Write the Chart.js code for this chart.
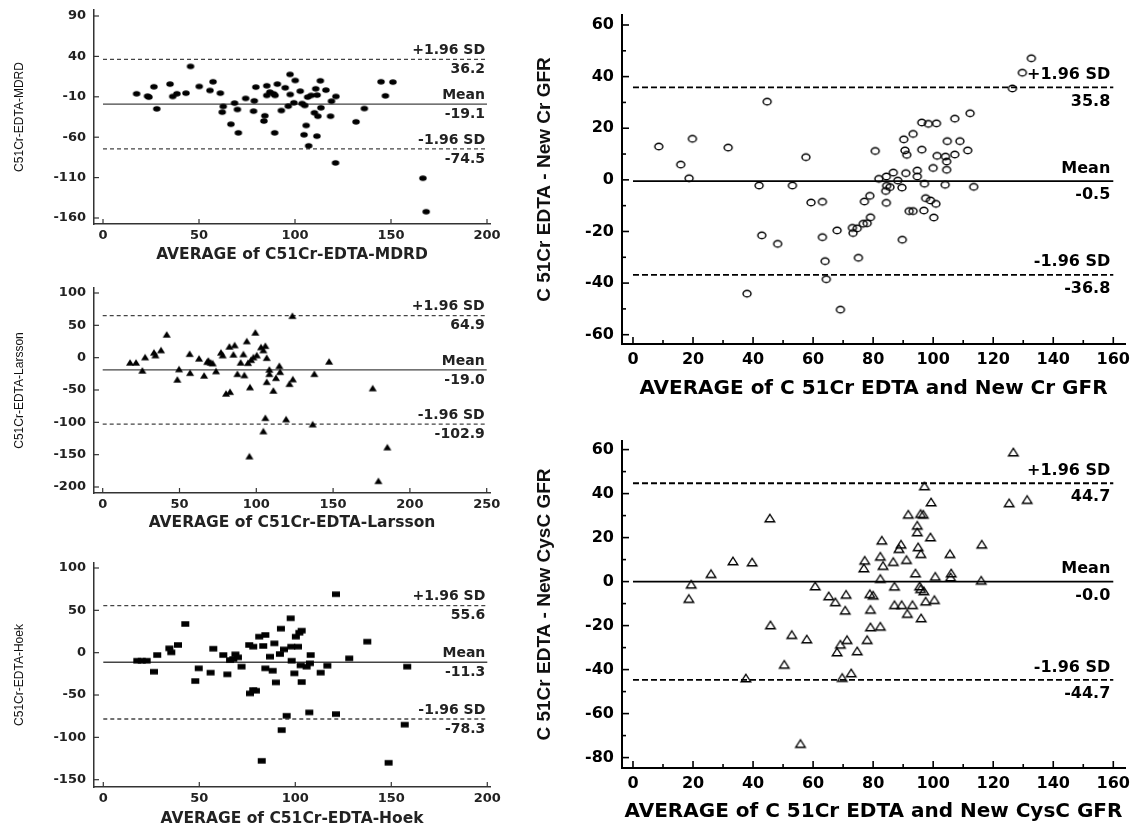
<!DOCTYPE html>
<html>
<head>
<meta charset="utf-8">
<title>Bland-Altman plots</title>
<script src="https://cdn.jsdelivr.net/npm/chart.js@4.4.1/dist/chart.umd.min.js"></script>
<style>
  html, body { margin: 0; padding: 0; background: #fff; }
  #page { position: relative; width: 1146px; height: 827px; overflow: hidden; background: #fff; }
  canvas { position: absolute; }
</style>
</head>
<body>
<div id="page">
  <canvas id="mdrd"></canvas>
  <canvas id="larsson"></canvas>
  <canvas id="hoek"></canvas>
  <canvas id="newcr"></canvas>
  <canvas id="cysc"></canvas>
</div>
<script>
// [average, difference]
const mdrdPoints = [[17.5,-6.3],[23.2,-9.2],[23.9,-10.4],[26.5,2.4],[28.0,-24.9],[34.9,5.7],[36.3,-9.6],[38.5,-6.3],[43.2,-5.5],[45.6,27.6],[50.1,2.8],[55.7,-2.2],[57.3,8.6],[61.1,-5.5],[62.6,-22],[62.1,-29],[66.6,-43.9],[68.5,-17.8],[70.0,-25.7],[70.5,-54.6],[74.3,-12],[78.8,-15],[78.4,-27.8],[79.6,2],[84.3,-33.5],[83.8,-40],[85.3,3.6],[85.3,-8.3],[86.9,-4.2],[88.8,-6.3],[89.6,-8.3],[89.4,-54.6],[90.8,5.7],[92.9,-27],[94.9,1.2],[97.4,17.7],[97.5,-7.1],[96.5,-21.6],[100.1,10.2],[99.4,-17.4],[102.7,-3],[103.7,-18.3],[105.1,-20.7],[105.8,-45.5],[104.7,-57],[107.1,-70.7],[106.6,-10.4],[108.4,-8.3],[110.8,-0.1],[111.5,-7.9],[110.1,-29.8],[111.9,-34],[111.4,-58.7],[113.2,9.8],[113.5,-23.6],[116.1,-1.7],[118.5,-34],[119.0,-15.4],[121.3,-9.6],[121.1,-91.8],[131.8,-41],[136.1,-24.5],[144.8,8.6],[147.1,-8.8],[151.0,8.2],[166.6,-110.8],[168.3,-152.2]];
const larssonPoints = [[17.8,-7.2],[21.7,-7.2],[27.6,1],[25.8,-19.6],[33.4,8.3],[34.3,4.1],[38,11.9],[41.7,36.1],[49.7,-17.5],[48.6,-33.5],[56.6,6.2],[56.9,-23.2],[62.7,-1],[66,-27.3],[68.8,-4.1],[70.3,-7.2],[68.1,-6.2],[71.6,-8.3],[73.8,-20.6],[77,8.3],[78.1,4.1],[80.3,-55.2],[82.9,-52.6],[82.5,17.5],[85.9,19.6],[85.1,5.2],[87.7,-24.8],[89.8,-7.2],[91.6,5.7],[92.2,-26.8],[93.8,25.8],[94.6,-7.7],[95.9,-45.4],[96.6,-3.1],[98.1,1],[99.4,39.2],[100.3,4.1],[103.1,16.5],[104.6,11.9],[105.9,18.6],[106.8,0],[108.5,-18.1],[106.8,-37.2],[108.5,-24.8],[111.1,-50.6],[112.8,-31],[115,-12.4],[115.5,-21.7],[121.6,-40.2],[123.8,-33],[123.5,65],[105.9,-92.9],[104.6,-113.5],[119.4,-94.9],[136.7,-102.7],[137.8,-24.8],[147.4,-5.7],[95.5,-152.2],[175.8,-47],[185.3,-138.3],[179.5,-190.4]];
const hoekPoints = [[17.7,-9.5],[20,-9.5],[22.6,-9.5],[26.4,-22.5],[28.1,-2.8],[34.4,5.1],[35.4,0.4],[38.9,9.1],[42.7,33.9],[47.9,-33.5],[49.7,-18.5],[55.9,-23.6],[57.3,4.7],[62.5,-2.8],[64.6,-25.6],[66,-8.7],[68.8,-2],[70.1,-5.5],[72,-16.5],[67.7,-7.5],[76,9.1],[78.1,7.1],[76.4,-48.1],[78.1,-44.1],[79.5,-44.9],[81.2,18.9],[84.4,20.9],[83.3,7.9],[84.4,-18.5],[82.5,-127.7],[86.8,-4.7],[88.2,-21.3],[89.1,11],[89.9,-35.1],[92,-1.6],[92.5,28.4],[94.1,3.9],[95.5,-74.5],[92.9,-91.4],[97.6,40.6],[97.9,7.1],[98.1,-9.5],[99.5,-24.4],[100.3,18.9],[101.4,7.1],[102.1,23.6],[103.3,26],[102.8,-15],[103.3,-34.7],[105.9,-16.5],[108,-2.8],[107.6,-12.6],[107.3,-70.5],[113.2,-23.6],[116.7,-15.4],[121.2,69],[121.2,-72.5],[128.1,-6.7],[137.5,13],[148.6,-130],[158.3,-16.5],[157,-85]];
const newCrPoints = [[8.6,12.9],[15.9,5.9],[19.8,15.9],[18.7,0.6],[31.7,12.5],[44.7,30.3],[42,-2.2],[42.9,-21.5],[38,-44.1],[48.2,-24.8],[53.1,-2.2],[57.6,8.8],[59.3,-8.8],[63.1,-8.5],[63.1,-22.2],[64,-31.5],[64.4,-38.5],[68,-19.6],[69.1,-50.3],[73.1,-18.6],[73.3,-20.6],[74.7,-18.8],[75.1,-30.2],[76.7,-17],[78,-16.8],[77.1,-8.4],[78.9,-6.2],[79.1,-14.5],[80.7,11.2],[81.9,0.4],[84.4,1.3],[86.7,2.8],[84.5,-2.3],[84.2,-4.3],[85.6,-2.8],[88.2,-0.3],[89.6,-3],[84.4,-8.9],[90.9,2.6],[89.7,-23.2],[90.2,15.7],[93.3,17.8],[90.6,11.4],[91.2,9.7],[96.2,11.7],[96.2,22.2],[98.4,21.7],[101.1,21.9],[94.7,3.6],[94.7,1.3],[97.1,-1.5],[100,4.6],[101.3,9.3],[104.1,9],[104.5,7.1],[104.5,3.9],[104,-1.9],[104.7,15],[107.2,23.7],[107.2,9.8],[108.9,15],[111.5,11.4],[112.3,25.8],[113.5,-2.7],[92,-12.1],[93.3,-12.1],[96.9,-11.9],[97.5,-7.1],[99.1,-8],[100.9,-9.3],[100.2,-14.6],[126.4,35.4],[129.7,41.5],[132.7,47.1]];
const cysCPoints = [[18.6,-7.7],[19.4,-1.2],[26,3.6],[33.3,9.4],[39.7,8.9],[37.6,-43.8],[45.6,28.9],[45.8,-19.7],[50.4,-37.6],[52.9,-24.1],[55.8,-73.6],[57.9,-26.1],[60.7,-2],[65.2,-6.5],[67.4,-9.2],[68,-32],[69.1,-28.5],[70.7,-13],[71,-5.8],[71.3,-26.4],[69.7,-43.6],[72.7,-41.5],[74.7,-31.5],[76.9,6.2],[77.2,9.7],[78,-26.4],[78.9,-5.5],[79.1,-12.6],[79.1,-20.6],[80,-6.2],[82.4,-20.3],[82.9,18.8],[82.4,11.5],[83.3,7.3],[82.4,1.4],[86.7,9.1],[87.1,-2.1],[87.1,-10.5],[88.6,15],[89.3,17],[91.1,10],[89.5,-10.5],[91.4,-14.5],[93.1,-10.5],[91.7,30.6],[95.8,30.9],[96.7,30.6],[94.7,25.6],[94.7,22.6],[95,15.8],[95.9,12.7],[94.1,3.9],[95.5,-2],[95.8,-3.2],[96.9,-4.2],[96,-16.5],[97.5,-8.9],[97.1,43.5],[99.3,36.2],[99.1,20.3],[100.4,-8.2],[100.7,2.4],[105.6,12.7],[106,3.9],[105.8,2.1],[116.2,17],[116,0.6],[125.3,35.8],[131.3,37.3],[126.7,58.9]];

// +1.96 SD, mean, -1.96 SD
const limitNames = ['+1.96 SD', 'Mean', '-1.96 SD'];
const mdrdLimits = [36.2, -19.1, -74.5];
const mdrdLimitText = ['36.2', '-19.1', '-74.5'];
const larssonLimits = [64.9, -19.0, -102.9];
const larssonLimitText = ['64.9', '-19.0', '-102.9'];
const hoekLimits = [55.6, -11.3, -78.3];
const hoekLimitText = ['55.6', '-11.3', '-78.3'];
const newCrLimits = [35.8, -0.5, -36.8];
const newCrLimitText = ['35.8', '-0.5', '-36.8'];
const cysCLimits = [44.7, -0.0, -44.7];
const cysCLimitText = ['44.7', '-0.0', '-44.7'];

// tick labels
const mdrdXTicks = [0, 50, 100, 150, 200];
const mdrdYTicks = [90, 40, -10, -60, -110, -160];
const larssonXTicks = [0, 50, 100, 150, 200, 250];
const larssonYTicks = [100, 50, 0, -50, -100, -150, -200];
const hoekXTicks = [0, 50, 100, 150, 200];
const hoekYTicks = [100, 50, 0, -50, -100, -150];
const gfrXTicks = [0, 20, 40, 60, 80, 100, 120, 140, 160];
const gfrXMinor = [10, 30, 50, 70, 90, 110, 130, 150];
const newCrYTicks = [60, 40, 20, 0, -20, -40, -60];
const newCrYMinor = [50, 30, 10, -10, -30, -50];
const cysCYTicks = [60, 40, 20, 0, -20, -40, -60, -80];
const cysCYMinor = [50, 30, 10, -10, -30, -50, -70];

function marker(shape, w, h, filled, lw) {
    const c = document.createElement('canvas');
    const pad = 2;
    c.width = Math.ceil(w + pad * 2);
    c.height = Math.ceil(h + pad * 2);
    const g = c.getContext('2d');
    const cx = c.width / 2, cy = c.height / 2;
    g.beginPath();
    if (shape === 'circle') {
        g.ellipse(cx, cy, w / 2, h / 2, 0, 0, Math.PI * 2);
    } else if (shape === 'triangle') {
        g.moveTo(cx, cy - h / 2);
        g.lineTo(cx + w / 2, cy + h / 2);
        g.lineTo(cx - w / 2, cy + h / 2);
        g.closePath();
    } else {
        g.rect(cx - w / 2, cy - h / 2, w, h);
    }
    if (filled) {
        g.fillStyle = '#000';
        g.fill();
    } else {
        g.lineWidth = lw;
        g.strokeStyle = '#000';
        g.stroke();
    }
    return c;
}

const smallStyle = {
    tickFont: { family: '"DejaVu Sans", sans-serif', size: 13, weight: 'bold' },
    tickColor: '#222', axisColor: '#333', axisWidth: 1.5,
    lineColor: '#444', lineWidth: 1.3, dash: [4, 3],
    labelFont: 'bold 14px "DejaVu Sans", sans-serif', labelColor: '#222',
    labelAbove: 9, labelBelow: 10, labelInset: 2,
    major: 5, minor: 3,
    xTitleFont: { family: '"DejaVu Sans", sans-serif', size: 15.5, weight: 'bold' },
    yTitleFont: { family: '"Liberation Sans", Arial, sans-serif', size: 12, weight: 'normal' },
    xTickPad: 4, yTickPad: 8, yTitlePad: 12.8
};
const bigStyle = {
    tickFont: { family: '"DejaVu Sans", sans-serif', size: 16, weight: 'bold' },
    tickColor: '#000', axisColor: '#000', axisWidth: 2,
    lineColor: '#000', lineWidth: 1.8, dash: [6, 3],
    labelFont: 'bold 16px "DejaVu Sans", sans-serif', labelColor: '#000',
    labelAbove: 12.5, labelBelow: 14, labelInset: 3,
    major: 7, minor: 4,
    xTitleFont: { family: '"DejaVu Sans", sans-serif', size: 20, weight: 'bold' },
    yTitleFont: { family: '"Liberation Sans", Arial, sans-serif', size: 19, weight: 'bold' },
    xTickPad: 6, yTickPad: 8, yTitlePad: 33.6
};

// ticks drawn inward from the axis lines
function tickPlugin(cfg, st) {
    return {
        id: 'inwardTicks',
        afterDraw(chart) {
            const { ctx, chartArea: a, scales } = chart;
            ctx.save();
            ctx.strokeStyle = st.axisColor;
            ctx.lineWidth = st.axisWidth * 0.8;
            const mark = (scale, values, len) => {
                (values || []).forEach(v => {
                    const p = scale.getPixelForValue(v);
                    ctx.beginPath();
                    if (scale.axis === 'x') {
                        ctx.moveTo(p, a.bottom);
                        ctx.lineTo(p, a.bottom - len);
                    } else {
                        ctx.moveTo(a.left, p);
                        ctx.lineTo(a.left + len, p);
                    }
                    ctx.stroke();
                });
            };
            mark(scales.x, cfg.xTicks, st.major);
            mark(scales.x, cfg.xMinor, st.minor);
            mark(scales.y, cfg.yTicks, st.major);
            mark(scales.y, cfg.yMinor, st.minor);
            ctx.restore();
        }
    };
}

// text above / below the mean and limit lines
function labelPlugin(cfg, st) {
    return {
        id: 'limitLabels',
        afterDatasetsDraw(chart) {
            const { ctx, scales: { x, y } } = chart;
            const px = x.getPixelForValue(cfg.xEnd) - st.labelInset;
            ctx.save();
            ctx.font = st.labelFont;
            ctx.fillStyle = st.labelColor;
            ctx.textAlign = 'right';
            ctx.textBaseline = 'middle';
            cfg.limits.forEach((v, i) => {
                const py = y.getPixelForValue(v);
                ctx.fillText(limitNames[i], px, py - st.labelAbove);
                ctx.fillText(cfg.limitText[i], px, py + st.labelBelow);
            });
            ctx.restore();
        }
    };
}

function buildChart(cfg, st) {
    const canvas = document.getElementById(cfg.id);
    const box = cfg.box, area = cfg.area;
    canvas.width = box.w;
    canvas.height = box.h;
    canvas.style.left = box.x + 'px';
    canvas.style.top = box.y + 'px';
    const yWidth = area.l - box.x;
    const xHeight = box.y + box.h - area.b;

    const limitLine = (v, dashed) => ({
        data: [{ x: 0, y: v }, { x: cfg.xEnd, y: v }],
        showLine: true,
        borderColor: st.lineColor,
        borderWidth: st.lineWidth,
        borderDash: dashed ? st.dash : [],
        pointRadius: 0,
        fill: false
    });

    new Chart(canvas, {
        type: 'scatter',
        data: {
            datasets: [
                {
                    data: cfg.points.map(p => ({ x: p[0], y: p[1] })),
                    pointStyle: cfg.marker,
                    pointRadius: 4
                },
                limitLine(cfg.limits[0], true),
                limitLine(cfg.limits[1], false),
                limitLine(cfg.limits[2], true)
            ]
        },
        options: {
            responsive: false,
            animation: false,
            events: [],
            layout: { padding: { left: 0, top: area.t - box.y, right: box.x + box.w - area.r, bottom: 0 } },
            plugins: { legend: { display: false }, tooltip: { enabled: false } },
            scales: {
                x: {
                    type: 'linear',
                    min: cfg.xRange[0],
                    max: cfg.xRange[1],
                    afterBuildTicks: s => { s.ticks = cfg.xTicks.map(v => ({ value: v })); },
                    afterFit: s => { s.height = xHeight; },
                    grid: { display: false, drawTicks: false },
                    border: { display: true, color: st.axisColor, width: st.axisWidth },
                    ticks: {
                        font: st.tickFont, color: st.tickColor, padding: st.xTickPad,
                        autoSkip: false, maxRotation: 0, callback: v => String(v)
                    },
                    title: {
                        display: true, text: cfg.xTitle, font: st.xTitleFont, color: st.tickColor,
                        padding: { top: 0, bottom: cfg.xTitlePad }
                    }
                },
                y: {
                    type: 'linear',
                    min: cfg.yRange[0],
                    max: cfg.yRange[1],
                    afterBuildTicks: s => { s.ticks = cfg.yTicks.map(v => ({ value: v })); },
                    afterFit: s => { s.width = yWidth; },
                    grid: { display: false, drawTicks: false },
                    border: { display: true, color: st.axisColor, width: st.axisWidth },
                    ticks: {
                        font: st.tickFont, color: st.tickColor, padding: st.yTickPad,
                        autoSkip: false, callback: v => String(v)
                    },
                    title: {
                        display: true, text: cfg.yTitle, font: st.yTitleFont, color: '#111',
                        padding: { top: st.yTitlePad, bottom: 0 }
                    }
                }
            }
        },
        plugins: [tickPlugin(cfg, st), labelPlugin(cfg, st)]
    });
}

buildChart({
    id: 'mdrd', box: { x: 0, y: -12, w: 515, h: 280 }, area: { l: 94, r: 490, t: 10, b: 224 },
    points: mdrdPoints, marker: marker('circle', 7.5, 5.5, true),
    limits: mdrdLimits, limitText: mdrdLimitText, xEnd: 200,
    xTicks: mdrdXTicks, yTicks: mdrdYTicks,
    xRange: [-4.69, 201.56], yRange: [-167.43, 97.43],
    xTitle: 'AVERAGE of C51Cr-EDTA-MDRD', yTitle: 'C51Cr-EDTA-MDRD', xTitlePad: 3.6
}, smallStyle);

buildChart({
    id: 'larsson', box: { x: 0, y: 266, w: 515, h: 269 }, area: { l: 94, r: 490, t: 288, b: 493 },
    points: larssonPoints, marker: marker('triangle', 8, 6.5, true),
    limits: larssonLimits, limitText: larssonLimitText, xEnd: 250,
    xTicks: larssonXTicks, yTicks: larssonYTicks,
    xRange: [-5.66, 252.15], yRange: [-209.28, 107.73],
    xTitle: 'AVERAGE of C51Cr-EDTA-Larsson', yTitle: 'C51Cr-EDTA-Larsson', xTitlePad: 2.9
}, smallStyle);

buildChart({
    id: 'hoek', box: { x: 0, y: 541, w: 515, h: 286 }, area: { l: 94, r: 490, t: 563, b: 787 },
    points: hoekPoints, marker: marker('rect', 8, 5.5, true),
    limits: hoekLimits, limitText: hoekLimitText, xEnd: 200,
    xTicks: hoekXTicks, yTicks: hoekYTicks,
    xRange: [-4.84, 201.41], yRange: [-158.62, 105.9],
    xTitle: 'AVERAGE of C51Cr-EDTA-Hoek', yTitle: 'C51Cr-EDTA-Hoek', xTitlePad: -1
}, smallStyle);

buildChart({
    id: 'newcr', box: { x: 500, y: -10, w: 646, h: 410 }, area: { l: 622, r: 1125, t: 15, b: 344 },
    points: newCrPoints, marker: marker('circle', 8, 6.5, false, 1.4),
    limits: newCrLimits, limitText: newCrLimitText, xEnd: 160,
    xTicks: gfrXTicks, xMinor: gfrXMinor, yTicks: newCrYTicks, yMinor: newCrYMinor,
    xRange: [-3.66, 163.9], yRange: [-63.6, 63.87],
    xTitle: 'AVERAGE of C 51Cr EDTA and New Cr GFR', yTitle: 'C 51Cr EDTA - New Cr GFR', xTitlePad: -1
}, bigStyle);

buildChart({
    id: 'cysc', box: { x: 500, y: 416, w: 646, h: 411 }, area: { l: 622, r: 1125, t: 441, b: 768 },
    points: cysCPoints, marker: marker('triangle', 9.5, 7.5, false, 1.4),
    limits: cysCLimits, limitText: cysCLimitText, xEnd: 160,
    xTicks: gfrXTicks, xMinor: gfrXMinor, yTicks: cysCYTicks, yMinor: cysCYMinor,
    xRange: [-3.66, 163.9], yRange: [-84.73, 63.91],
    xTitle: 'AVERAGE of C 51Cr EDTA and New CysC GFR', yTitle: 'C 51Cr EDTA - New CysC GFR', xTitlePad: 3
}, bigStyle);
</script>
</body>
</html>
